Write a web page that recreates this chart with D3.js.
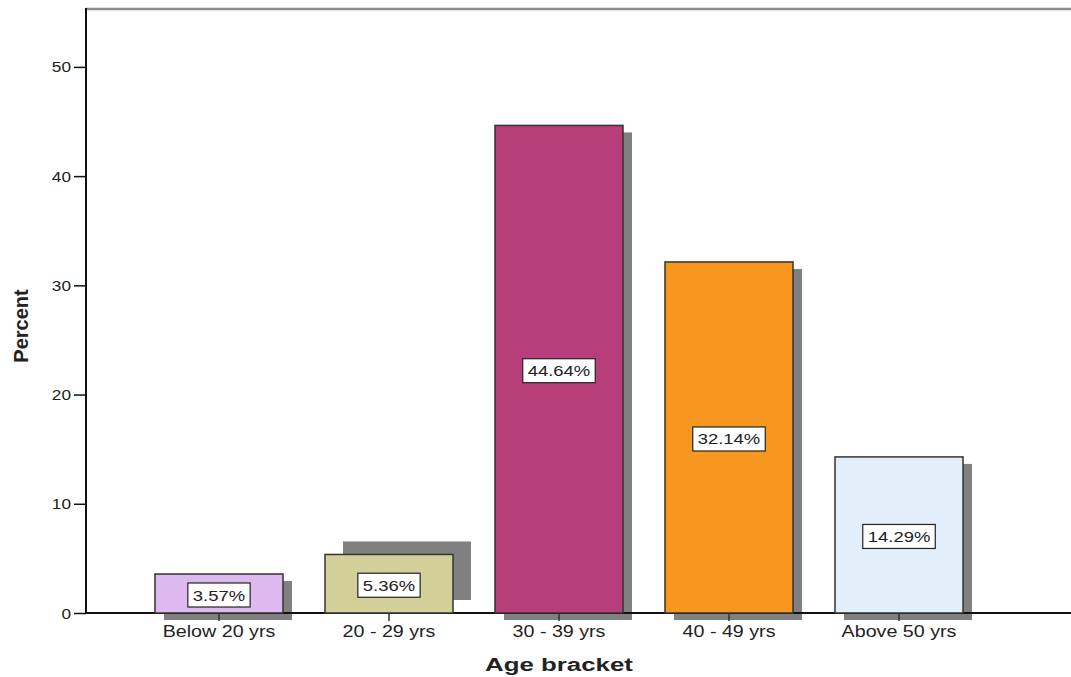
<!DOCTYPE html>
<html lang="en">
<head>
<meta charset="UTF-8">
<title>Age bracket</title>
<script src="https://d3js.org/d3.v7.min.js"></script>
<style>
    html, body {
        margin: 0;
        background: #fff;
    }
    text {
        font-family: "Liberation Sans", Arial, sans-serif;
        fill: #222;
    }
</style>
</head>
<body>
<div id="vis"></div>
<script>
// data
var categories = ["Below 20 yrs", "20 - 29 yrs", "30 - 39 yrs", "40 - 49 yrs", "Above 50 yrs"];
var percents = [3.57, 5.36, 44.64, 32.14, 14.29];
var yTicks = [0, 10, 20, 30, 40, 50];
var barColors = ["#ddb9ef", "#d3cf99", "#b83e7a", "#f7971f", "#e2eefa"];

var W = 1071, H = 677;
var margin = {top: 9, left: 86, bottom: 64};
var stretch = 1.23;   // the original text is drawn wide

// shadow offsets, the 20-29 one is drawn off in the original
var shadowShift = {default: [9, 7], "20 - 29 yrs": [18, -13]};

var svg = d3.select('#vis')
    .append('svg')
    .attr('width', W)
    .attr('height', H);

var plotBottom = H - margin.bottom;

var x = d3.scaleBand()
    .domain(categories)
    .range([margin.left + 2, margin.left + 944])
    .paddingInner(0.247)
    .paddingOuter(0.394);

var y = d3.scaleLinear()
    .domain([0, 55.3])
    .range([plotBottom, margin.top]);

var colour = d3.scaleOrdinal()
    .domain(categories)
    .range(barColors);

var rows = categories.map(function(c, i) {
    return {cat: c, value: percents[i]};
});

function shift(d) {
    return shadowShift[d.cat] || shadowShift.default;
}

// top frame line
svg.append('line')
    .attr('x1', margin.left).attr('x2', W)
    .attr('y1', margin.top).attr('y2', margin.top)
    .attr('stroke', '#8e8e8e')
    .attr('stroke-width', 2.5);

// shadows
svg.selectAll('.shadow')
    .data(rows)
    .enter()
    .append('rect')
    .attr('class', 'shadow')
    .attr('x', function(d) { return x(d.cat) + shift(d)[0]; })
    .attr('y', function(d) { return y(d.value) + shift(d)[1]; })
    .attr('width', x.bandwidth())
    .attr('height', function(d) { return plotBottom - y(d.value); })
    .attr('fill', '#808080');

// y axis
var yAxis = svg.append('g')
    .attr('transform', 'translate(' + margin.left + ',0)')
    .call(d3.axisLeft(y).tickValues(yTicks).tickSize(12).tickSizeOuter(0));
yAxis.select('.domain').remove();
yAxis.selectAll('.tick line').attr('stroke', '#111').attr('stroke-width', 1.5);
yAxis.selectAll('.tick text')
    .attr('x', null)
    .attr('dy', null)
    .attr('transform', 'translate(-15,5) scale(' + stretch + ',1)')
    .attr('font-size', 14)
    .attr('fill', '#222');
svg.append('line')
    .attr('x1', margin.left).attr('x2', margin.left)
    .attr('y1', margin.top - 1).attr('y2', plotBottom + 1)
    .attr('stroke', '#111')
    .attr('stroke-width', 2);

// x axis
var xAxis = svg.append('g')
    .attr('transform', 'translate(0,' + plotBottom + ')')
    .call(d3.axisBottom(x).tickSize(8).tickSizeOuter(0));
xAxis.select('.domain').remove();
xAxis.selectAll('.tick line').attr('stroke', '#333').attr('stroke-width', 1.5);
xAxis.selectAll('.tick text')
    .attr('y', null)
    .attr('dy', null)
    .attr('transform', 'translate(0,24) scale(' + stretch + ',1)')
    .attr('font-size', 16)
    .attr('fill', '#222');
svg.append('line')
    .attr('x1', margin.left).attr('x2', W)
    .attr('y1', plotBottom).attr('y2', plotBottom)
    .attr('stroke', '#111')
    .attr('stroke-width', 2);

// bars
svg.selectAll('.bar')
    .data(rows)
    .enter()
    .append('rect')
    .attr('class', 'bar')
    .attr('x', function(d) { return x(d.cat); })
    .attr('y', function(d) { return y(d.value); })
    .attr('width', x.bandwidth())
    .attr('height', function(d) { return plotBottom - y(d.value); })
    .attr('fill', function(d) { return colour(d.cat); })
    .attr('stroke', '#333')
    .attr('stroke-width', 1.5);

// value labels in boxes
var labels = svg.selectAll('.lab')
    .data(rows)
    .enter()
    .append('g')
    .attr('class', 'lab')
    .attr('transform', function(d) {
        var cy = (y(d.value) + plotBottom) / 2 + 1.5;
        return 'translate(' + (x(d.cat) + x.bandwidth() / 2) + ',' + cy + ')';
    });

labels.append('rect').attr('class', 'box');
labels.append('text')
    .attr('text-anchor', 'middle')
    .attr('font-size', 15)
    .attr('fill', '#111')
    .attr('transform', 'translate(0,5.5) scale(' + stretch + ',1)')
    .text(function(d) { return d.value.toFixed(2) + '%'; });

labels.each(function() {
    var g = d3.select(this);
    var w = g.select('text').node().getComputedTextLength() * stretch + 10;
    g.select('rect')
        .attr('x', -w / 2)
        .attr('y', -12)
        .attr('width', w)
        .attr('height', 24)
        .attr('fill', '#fff')
        .attr('stroke', '#222')
        .attr('stroke-width', 1.2);
});

// axis titles
svg.append('text')
    .attr('text-anchor', 'middle')
    .attr('font-size', 19)
    .attr('font-weight', 'bold')
    .attr('fill', '#111')
    .attr('transform', 'translate(' + (margin.left + 473) + ',671) scale(1.36,1)')
    .text('Age bracket');

svg.append('text')
    .attr('text-anchor', 'middle')
    .attr('font-size', 20)
    .attr('font-weight', 'bold')
    .attr('fill', '#111')
    .attr('transform', 'translate(28,326) rotate(-90)')
    .text('Percent');
</script>
</body>
</html>
